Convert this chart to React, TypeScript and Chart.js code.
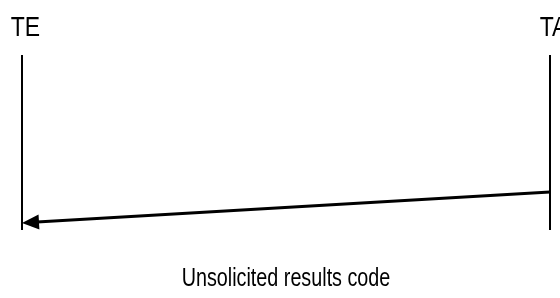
import React, { useEffect, useRef } from "react";
import { Chart, registerables } from "chart.js";

Chart.register(...registerables);

// Participants of the sequence diagram
const participants = ["TE", "TA"];
const participantX = [22, 550];
const lifelineTop = 55;
const lifelineBottom = 230;
const labelBaseline = 36;

// The message: from TA to TE
const messageLabel = "Unsolicited results code";
const messageFrom = [550, 192];
const messageTo = [22, 223];
const messageLabelX = 286;
const messageLabelBaseline = 286;

const W = 560;
const H = 298;

function narrowText(ctx: CanvasRenderingContext2D, text: string, x: number, y: number, size: number, sx: number) {
  ctx.save();
  ctx.font = `${size}px "Liberation Sans", Arial, sans-serif`;
  ctx.textAlign = "center";
  ctx.textBaseline = "alphabetic";
  ctx.translate(x, y);
  ctx.scale(sx, 1);
  ctx.fillText(text, 0, 0);
  ctx.restore();
}

export default function App() {
  const ref = useRef<HTMLCanvasElement | null>(null);

  useEffect(() => {
    document.body.style.margin = "0";
    const canvas = ref.current!;
    const lifelines = participants.map((p, i) => ({
      label: p,
      data: [
        { x: participantX[i], y: lifelineTop },
        { x: participantX[i], y: lifelineBottom },
      ],
      showLine: true,
      borderColor: "#000",
      borderWidth: 2,
      pointRadius: 0,
      fill: false,
    }));

    const dx = messageTo[0] - messageFrom[0];
    const dy = messageTo[1] - messageFrom[1];
    const len = Math.hypot(dx, dy);
    const ux = dx / len;
    const uy = dy / len;
    const headLen = 17;
    const headHalf = 7.5;
    const shaftEnd = { x: messageTo[0] - ux * (headLen - 2), y: messageTo[1] - uy * (headLen - 2) };

    const message = {
      label: messageLabel,
      data: [{ x: messageFrom[0], y: messageFrom[1] }, shaftEnd],
      showLine: true,
      borderColor: "#000",
      borderWidth: 3,
      pointRadius: 0,
      fill: false,
    };

    const drawPlugin = {
      id: "seqDecor",
      afterDatasetsDraw(chart: any) {
        const { ctx } = chart;
        const xs = chart.scales.x;
        const ys = chart.scales.y;
        ctx.save();
        const tipX = xs.getPixelForValue(messageTo[0]);
        const tipY = ys.getPixelForValue(messageTo[1]);
        const bx = tipX - ux * headLen;
        const by = tipY - uy * headLen;
        ctx.fillStyle = "#000";
        ctx.beginPath();
        ctx.moveTo(tipX, tipY);
        ctx.lineTo(bx - uy * headHalf, by + ux * headHalf);
        ctx.lineTo(bx + uy * headHalf, by - ux * headHalf);
        ctx.closePath();
        ctx.fill();
        participants.forEach((p, i) => {
          narrowText(ctx, p, xs.getPixelForValue(participantX[i] + 3.5), ys.getPixelForValue(labelBaseline), 28, 0.82);
        });
        narrowText(ctx, messageLabel, xs.getPixelForValue(messageLabelX), ys.getPixelForValue(messageLabelBaseline), 26, 0.76);
        ctx.restore();
      },
    };

    const chart = new Chart(canvas, {
      type: "scatter",
      data: { datasets: [...lifelines, message] as any },
      options: {
        animation: false,
        responsive: false,
        maintainAspectRatio: false,
        layout: { padding: 0 },
        plugins: { legend: { display: false }, tooltip: { enabled: false }, title: { display: false } },
        scales: {
          x: { type: "linear", min: 0, max: W, display: false },
          y: { type: "linear", min: 0, max: H, reverse: true, display: false },
        },
        elements: { line: { tension: 0 } },
      },
      plugins: [drawPlugin],
    });
    return () => chart.destroy();
  }, []);

  return (
    <div style={{ position: "absolute", left: 0, top: 0, width: W, height: H, background: "#fff" }}>
      <canvas ref={ref} width={W} height={H} style={{ display: "block" }} />
    </div>
  );
}
